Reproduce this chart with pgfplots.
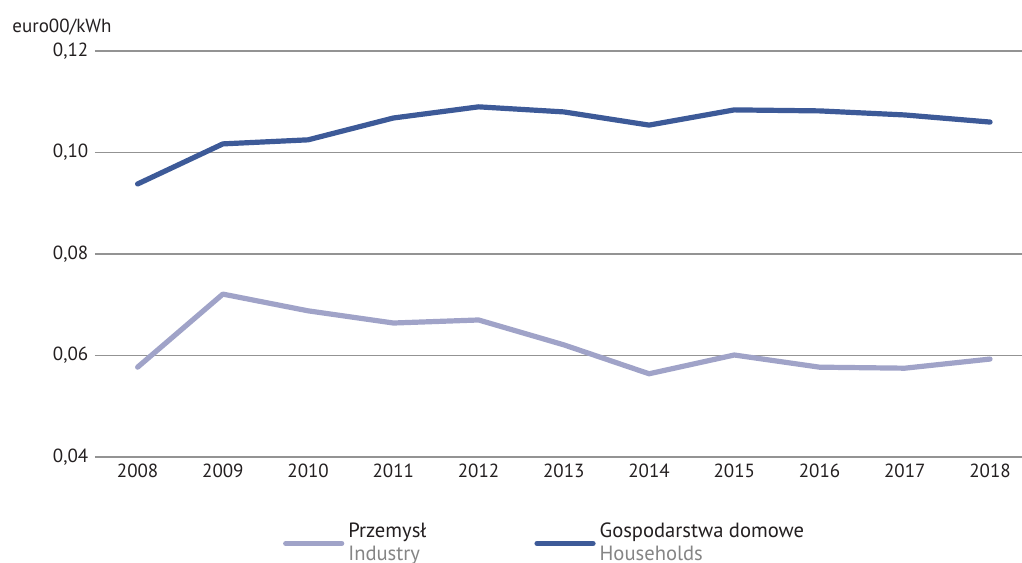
\documentclass[border=0pt]{standalone}
\usepackage{fontspec}
\setmainfont{PT Sans}
\usepackage{pgfplots}
\pgfplotsset{compat=1.18}
\definecolor{hh}{HTML}{3D5A98}
\definecolor{ind}{HTML}{A0A3C8}
\definecolor{txt}{HTML}{231F20}
\definecolor{sub}{HTML}{858585}

\begin{document}
\fontsize{9.5}{11}\selectfont
\begin{tikzpicture}
\useasboundingbox (-47.5pt,-52.5pt) rectangle (463.5pt,228.5pt);
\begin{axis}[
    at={(0,0)}, anchor=south west,
    scale only axis,
    width=463.5pt, height=203pt,
    xmin=2007.5, xmax=2018.375,
    ymin=0.04, ymax=0.12,
    xtick={2008,2009,2010,2011,2012,2013,2014,2015,2016,2017,2018},
    ytick={0.04,0.06,0.08,0.10,0.12},
    ymajorgrids,
    grid style={gray!85, line width=0.6pt},
    axis line style={draw=none},
    major tick length=0pt,
    /pgf/number format/assume math mode=true,
    tick label style={font=\fontsize{9.5}{11}\selectfont, text=txt},
    x tick label style={/pgf/number format/1000 sep={}},
    y tick label style={/pgf/number format/.cd, fixed, fixed zerofill, precision=2, use comma},
    legend columns=2,
    legend style={at={(axis description cs:0.196,-0.213)}, anchor=west, draw=none,
        font=\fontsize{10.3}{11.5}\selectfont, text=txt,
        /tikz/every even column/.append style={column sep=52pt},
        cells={anchor=west, align=left}},
    legend image code/.code={\draw[#1] (0pt,0pt) -- (28pt,0pt);},
]
\addplot[ind, line width=2.6pt, line cap=round, line join=round] coordinates {
    (2008,0.0577) (2009,0.0721) (2010,0.0688) (2011,0.0664) (2012,0.0670)
    (2013,0.0621) (2014,0.0564) (2015,0.0601) (2016,0.0577) (2017,0.0575) (2018,0.0593)
};
\addlegendentry{Przemysł\\\textcolor{sub}{Industry}}
\addplot[hh, line width=2.6pt, line cap=round, line join=round] coordinates {
    (2008,0.0938) (2009,0.1017) (2010,0.1025) (2011,0.1068) (2012,0.1090)
    (2013,0.1080) (2014,0.1054) (2015,0.1084) (2016,0.1082) (2017,0.1074) (2018,0.1060)
};
\addlegendentry{Gospodarstwa domowe\\\textcolor{sub}{Households}}
\end{axis}
\node[anchor=base west, text=txt, inner sep=0pt] at (-41.5pt,212pt) {euro00/kWh};
\end{tikzpicture}
\end{document}
